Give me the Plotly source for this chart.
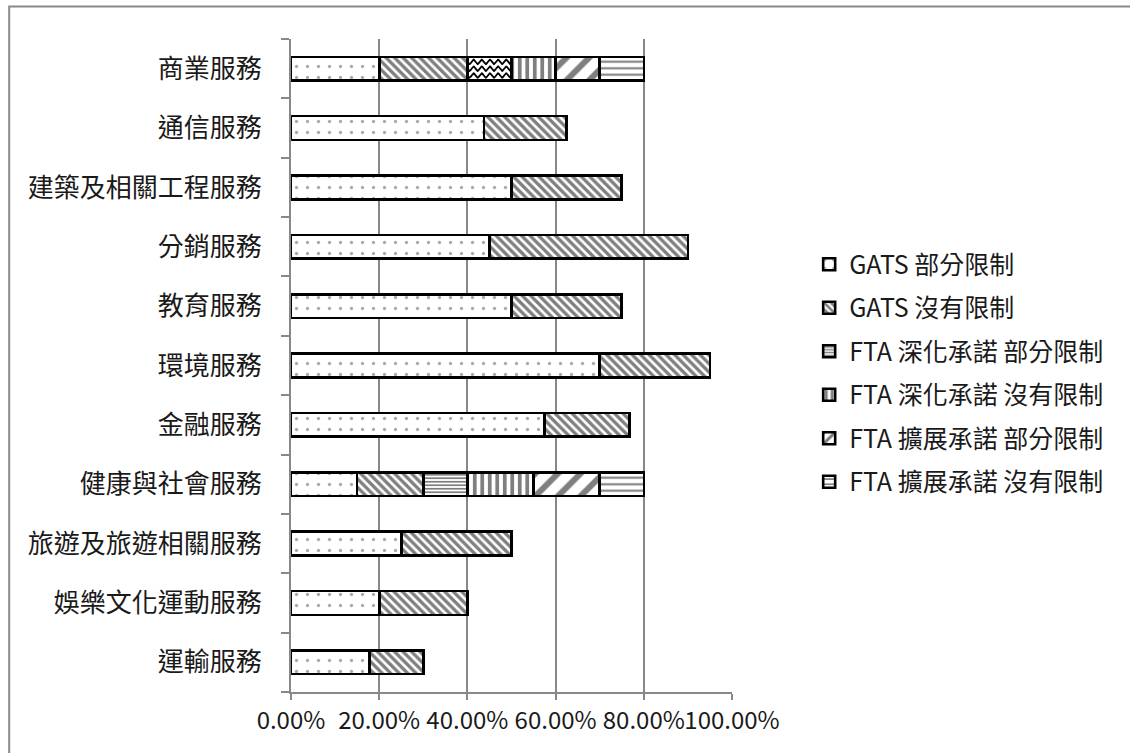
import numpy as np
import plotly.graph_objects as go

# Service sectors, listed top to bottom
categories = [
    "商業服務", "通信服務", "建築及相關工程服務", "分銷服務", "教育服務",
    "環境服務", "金融服務", "健康與社會服務", "旅遊及旅遊相關服務",
    "娛樂文化運動服務", "運輸服務",
]

# Share of sub-sectors (fraction) per commitment type
gats_partial = [0.20, 0.4375, 0.50, 0.45, 0.50, 0.70, 0.575, 0.15, 0.25, 0.20, 0.178]
gats_none = [0.20, 0.1875, 0.25, 0.45, 0.25, 0.25, 0.192, 0.15, 0.25, 0.20, 0.122]
fta_deep_partial = [0.10, None, None, None, None, None, None, 0.10, None, None, None]
fta_deep_none = [0.10, None, None, None, None, None, None, 0.15, None, None, None]
fta_ext_partial = [0.10, None, None, None, None, None, None, 0.15, None, None, None]
fta_ext_none = [0.10, None, None, None, None, None, None, 0.10, None, None, None]

series_names = [
    "GATS 部分限制", "GATS 沒有限制", "FTA 深化承諾 部分限制",
    "FTA 深化承諾 沒有限制", "FTA 擴展承諾 部分限制", "FTA 擴展承諾 沒有限制",
]
series_values = [gats_partial, gats_none, fta_deep_partial,
                 fta_deep_none, fta_ext_partial, fta_ext_none]

# Sector whose FTA-deepened partial segment uses a wave fill
wave_sector = "商業服務"

x_ticks = [0, 0.2, 0.4, 0.6, 0.8, 1.0]

GRID = "#888888"
INK = "#1a1a1a"
CJK = "Noto Sans CJK TC"

patterns = [
    dict(shape=".", size=11, solidity=0.07, fgcolor="#555555", bgcolor="white"),
    dict(shape="\\", size=6, solidity=0.55, fgcolor="black", bgcolor="white"),
    dict(shape="-", size=3.5, solidity=0.5, fgcolor="black", bgcolor="white"),
    dict(shape="|", size=7.5, solidity=0.5, fgcolor="black", bgcolor="white"),
    dict(shape="/", size=16, solidity=0.38, fgcolor="black", bgcolor="white"),
    dict(shape="-", size=6.5, solidity=0.32, fgcolor="black", bgcolor="white"),
]

ypos = list(range(len(categories)))
BAR_W = 0.4
OUTLINE = dict(color="black", width=2.6)
wi = categories.index(wave_sector)

fig = go.Figure()
for k, (name, vals, pat) in enumerate(zip(series_names, series_values, patterns)):
    vals = list(vals)
    if k == 2:
        wave_vals = [v if i == wi else None for i, v in enumerate(vals)]
        vals = [None if i == wi else v for i, v in enumerate(vals)]
    fig.add_trace(go.Bar(
        name=name, y=ypos, x=vals, orientation="h", width=BAR_W,
        legendgroup=name,
        marker=dict(color="white", pattern=pat, line=OUTLINE),
        hoverinfo="skip",
    ))
    if k == 2:
        # plain segment that receives the wave fill
        fig.add_trace(go.Bar(
            name=name, y=ypos, x=wave_vals, orientation="h", width=BAR_W,
            legendgroup=name, showlegend=False,
            marker=dict(color="white", line=OUTLINE),
            hoverinfo="skip",
        ))

# Wave fill lines
w_start = gats_partial[wi] + gats_none[wi]
w_end = w_start + fta_deep_partial[wi]
xs = np.linspace(w_start, w_end, 200)
period = 0.0185
for off in (-0.115, 0.0, 0.115):
    ys = wi + off + 0.038 * np.sin(2 * np.pi * (xs - w_start) / period)
    fig.add_trace(go.Scatter(x=xs, y=ys, mode="lines", showlegend=False,
                             line=dict(color="black", width=1.8),
                             hoverinfo="skip"))

# Outer chart frame
fig.add_shape(type="rect", xref="paper", yref="paper",
              x0=-0.639, x1=2.0, y0=-0.3, y1=1.0497,
              line=dict(color="#8a8a8a", width=2), fillcolor="rgba(0,0,0,0)",
              layer="below")

fig.update_layout(
    width=1130, height=753,
    margin=dict(l=291, r=398, t=38.5, b=61.3),
    paper_bgcolor="white", plot_bgcolor="white",
    barmode="stack",
    font=dict(family=CJK, color=INK, size=26),
    showlegend=True,
    legend=dict(
        x=1.175, xanchor="left", y=0.690, yanchor="top",
        traceorder="grouped", tracegroupgap=8,
        font=dict(family=CJK, size=25, color=INK),
        bgcolor="rgba(0,0,0,0)",
    ),
    xaxis=dict(
        range=[0, 1], tickvals=x_ticks, tickformat=".2%", tickangle=0,
        showgrid=True, gridcolor=GRID, gridwidth=2,
        showline=True, linecolor=GRID, linewidth=2,
        ticks="outside", ticklen=6, tickwidth=2, tickcolor=GRID,
        zeroline=False,
        tickfont=dict(family=CJK, size=24, color=INK),
    ),
    yaxis=dict(
        range=[len(categories) - 0.5, -0.5],
        tickvals=ypos, ticktext=categories,
        showgrid=False, zeroline=False,
        showline=True, linecolor=GRID, linewidth=2,
        ticks="", ticklabelstandoff=22,
        minor=dict(tickvals=[i - 0.5 for i in range(len(categories) + 1)],
                   ticks="outside", ticklen=8, tickwidth=2, tickcolor=GRID,
                   showgrid=False),
        tickfont=dict(family=CJK, size=26, color=INK),
    ),
)

fig.write_html("out.html")
